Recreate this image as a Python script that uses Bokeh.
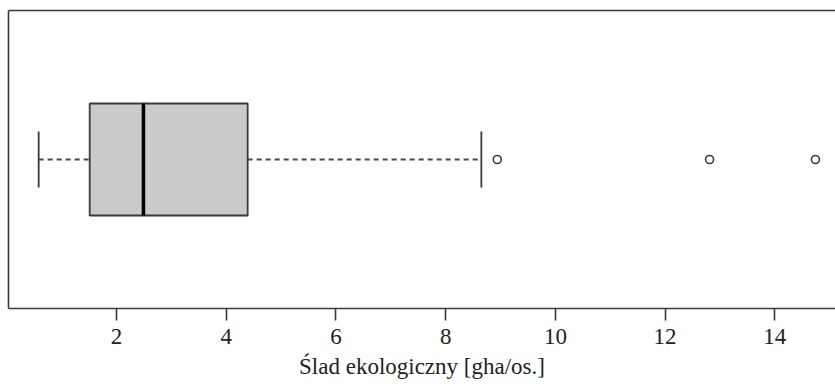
from bokeh.plotting import figure
from bokeh.models import Range1d, LinearAxis, FixedTicker
from bokeh.embed import file_html
from bokeh.resources import INLINE

# ---- data ----
group_pos = [1.0]
lower_whisker = [0.58]
q1 = [1.51]
median = [2.49]
q3 = [4.39]
upper_whisker = [8.65]
outlier_values = [8.94, 12.81, 14.74]
outlier_group = [1.0, 1.0, 1.0]
x_ticks = [2, 4, 6, 8, 10, 12, 14]
x_tick_labels = ["2", "4", "6", "8", "10", "12", "14"]
x_label = "Ślad ekologiczny [gha/os.]"

# ---- style ----
BOX_HALF = 0.188
STAPLE_HALF = 0.094
DARK = "#3a3a3a"
FONT = "'Liberation Serif', 'Times New Roman', Times, serif"

p = figure(
    width=835,
    frame_height=298,
    output_backend="svg",
    toolbar_location=None,
    x_range=Range1d(0.03, 15.106),
    y_range=Range1d(0.5, 1.5),
    min_border_top=10,
    min_border_left=8,
    min_border_right=0,
    min_border_bottom=0,
    background_fill_color="white",
    border_fill_color="white",
)
p.outline_line_color = None
p.xgrid.visible = False
p.ygrid.visible = False

# bottom axis
xa = p.xaxis[0]
xa.ticker = FixedTicker(ticks=x_ticks)
xa.major_label_overrides = {t: l for t, l in zip(x_ticks, x_tick_labels)}
xa.axis_label = x_label
xa.axis_line_color = DARK
xa.axis_line_width = 1.6
xa.major_tick_line_color = DARK
xa.major_tick_line_width = 1.6
xa.major_tick_in = 0
xa.major_tick_out = 12
xa.minor_tick_line_color = None
xa.major_label_standoff = 8
xa.major_label_text_font = FONT
xa.major_label_text_font_size = "23px"
xa.major_label_text_color = "#222222"
xa.axis_label_standoff = 7
xa.axis_label_text_font = FONT
xa.axis_label_text_font_size = "23px"
xa.axis_label_text_font_style = "normal"
xa.axis_label_text_color = "#222222"

# left axis: only its line, as the frame's left border
ya = p.yaxis[0]
ya.ticker = FixedTicker(ticks=[])
ya.axis_line_color = DARK
ya.axis_line_width = 1.6
ya.major_tick_out = 0
ya.major_tick_in = 0
ya.minor_tick_line_color = None
ya.major_label_standoff = 0
ya.major_label_text_font_size = "0px"

# top axis: only its line, as the frame's top border
ta = LinearAxis(ticker=FixedTicker(ticks=[]))
ta.axis_line_color = DARK
ta.axis_line_width = 1.6
ta.major_tick_out = 0
ta.major_tick_in = 0
ta.minor_tick_line_color = None
ta.major_label_standoff = 0
ta.major_label_text_font_size = "0px"
p.add_layout(ta, "above")

# whiskers (dashed)
p.segment(x0=lower_whisker, y0=group_pos, x1=q1, y1=group_pos,
          line_color="#4a4a4a", line_width=2, line_dash="5 4")
p.segment(x0=q3, y0=group_pos, x1=upper_whisker, y1=group_pos,
          line_color="#4a4a4a", line_width=2, line_dash="5 4")

# staples
p.segment(x0=lower_whisker, y0=[g - STAPLE_HALF for g in group_pos],
          x1=lower_whisker, y1=[g + STAPLE_HALF for g in group_pos],
          line_color=DARK, line_width=1.8)
p.segment(x0=upper_whisker, y0=[g - STAPLE_HALF for g in group_pos],
          x1=upper_whisker, y1=[g + STAPLE_HALF for g in group_pos],
          line_color=DARK, line_width=1.8)

# box
p.quad(left=q1, right=q3,
       bottom=[g - BOX_HALF for g in group_pos],
       top=[g + BOX_HALF for g in group_pos],
       fill_color="#c9cac9", line_color=DARK, line_width=1.8)

# median
p.segment(x0=median, y0=[g - BOX_HALF for g in group_pos],
          x1=median, y1=[g + BOX_HALF for g in group_pos],
          line_color="black", line_width=3.5)

# outliers
p.scatter(x=outlier_values, y=outlier_group, marker="circle", size=8,
          fill_color="white", line_color=DARK, line_width=1.6)

open("out.html", "w").write(file_html(p, INLINE))
